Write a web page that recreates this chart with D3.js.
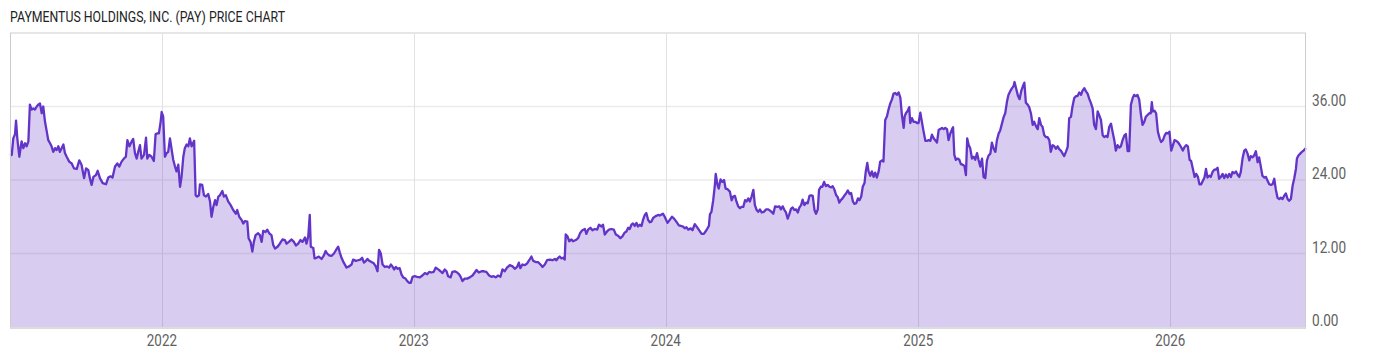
<!DOCTYPE html>
<html><head><meta charset="utf-8">
<script src="https://cdn.jsdelivr.net/npm/d3@7"></script>
<style>body{margin:0;background:#fff}svg{display:block}</style>
</head><body><svg id="c" width="1400" height="357"></svg>
<script>
const title = "PAYMENTUS HOLDINGS, INC. (PAY) PRICE CHART";
const yTickValues = [0, 12, 24, 36];
const yMax = 48;
// dates as decimal years
const dateYears = [
2021.397,2021.404,2021.410,2021.417,2021.421,2021.426,2021.434,2021.443,2021.450,2021.457,2021.463,2021.470,2021.476,2021.483,2021.490,2021.496,2021.503,2021.509,2021.516,2021.523,2021.529,2021.536,2021.543,2021.549,2021.556,2021.562,2021.569,2021.576,2021.582,2021.589,2021.595,2021.602,2021.609,2021.615,2021.622,2021.632,2021.642,2021.651,2021.662,2021.672,2021.681,2021.691,2021.699,2021.708,2021.714,2021.721,2021.728,2021.738,2021.745,2021.754,2021.765,2021.778,2021.787,2021.796,2021.804,2021.814,2021.823,2021.831,2021.840,2021.849,2021.857,2021.863,2021.871,2021.880,2021.886,2021.893,2021.900,2021.906,2021.913,2021.919,2021.929,2021.937,2021.942,2021.950,2021.959,2021.968,2021.975,2021.982,2021.988,2021.995,2021.999,
2022.005,2022.012,2022.019,2022.025,2022.032,2022.039,2022.045,2022.052,2022.058,2022.065,2022.072,2022.078,2022.085,2022.091,2022.098,2022.105,2022.111,2022.118,2022.128,2022.134,2022.140,2022.147,2022.151,2022.160,2022.167,2022.175,2022.184,2022.191,2022.197,2022.204,2022.211,2022.217,2022.224,2022.230,2022.240,2022.246,2022.254,2022.263,2022.273,2022.283,2022.294,2022.299,2022.307,2022.316,2022.323,2022.330,2022.339,2022.344,2022.352,2022.359,2022.365,2022.372,2022.382,2022.389,2022.396,2022.402,2022.411,2022.418,2022.426,2022.435,2022.442,2022.449,2022.459,2022.468,2022.479,2022.488,2022.495,2022.504,2022.515,2022.524,2022.532,2022.541,2022.550,2022.558,2022.568,2022.574,2022.581,2022.587,2022.591,2022.601,2022.606,2022.614,2022.623,2022.634,2022.643,2022.650,2022.656,2022.664,2022.673,2022.683,2022.693,2022.700,
2022.706,2022.713,2022.722,2022.733,2022.743,2022.753,2022.759,2022.770,2022.779,2022.788,2022.795,2022.802,2022.810,2022.816,2022.823,2022.832,2022.841,2022.849,2022.856,2022.862,2022.869,2022.876,2022.885,2022.894,2022.902,2022.909,2022.915,2022.922,2022.929,2022.935,2022.944,2022.951,2022.958,2022.967,2022.974,2022.982,2022.988,2022.995,
2023.004,2023.013,2023.024,2023.034,2023.044,2023.053,2023.061,2023.070,2023.079,2023.087,2023.097,2023.106,2023.114,2023.123,2023.130,2023.136,2023.146,2023.153,2023.163,2023.172,2023.180,2023.187,2023.193,2023.202,2023.212,2023.222,2023.233,2023.242,2023.249,2023.258,2023.269,2023.278,2023.288,2023.299,2023.308,2023.317,2023.325,2023.335,2023.344,2023.352,2023.361,2023.370,2023.381,2023.392,2023.401,2023.410,2023.417,2023.423,2023.431,2023.441,2023.450,2023.458,2023.467,2023.474,2023.484,2023.493,2023.503,2023.511,2023.520,2023.529,2023.540,2023.550,2023.560,2023.566,2023.573,2023.579,2023.586,2023.593,2023.599,2023.603,2023.610,2023.617,2023.626,2023.632,2023.643,2023.652,2023.661,2023.669,2023.679,2023.685,2023.692,2023.701,2023.709,2023.718,2023.728,2023.735,2023.745,2023.751,2023.758,2023.767,2023.775,2023.784,2023.794,2023.802,2023.811,2023.820,2023.828,2023.837,2023.844,2023.851,2023.857,2023.864,2023.870,2023.877,2023.884,2023.890,2023.897,2023.904,2023.910,2023.917,2023.923,2023.930,2023.937,2023.943,2023.950,2023.960,2023.970,2023.976,2023.989,2023.996,
2024.007,2024.016,2024.025,2024.033,2024.042,2024.052,2024.060,2024.069,2024.075,2024.082,2024.089,2024.099,2024.106,2024.115,2024.124,2024.132,2024.142,2024.151,2024.161,2024.171,2024.175,2024.181,2024.188,2024.194,2024.198,2024.205,2024.210,2024.217,2024.224,2024.231,2024.237,2024.245,2024.254,2024.261,2024.267,2024.274,2024.280,2024.287,2024.294,2024.300,2024.307,2024.314,2024.320,2024.327,2024.333,2024.340,2024.347,2024.353,2024.360,2024.366,2024.373,2024.380,2024.389,2024.397,2024.406,2024.413,2024.419,2024.426,2024.433,2024.442,2024.450,2024.456,2024.463,2024.470,2024.476,2024.483,2024.489,2024.496,2024.503,2024.509,2024.516,2024.523,2024.529,2024.536,2024.542,2024.549,2024.556,2024.562,2024.569,2024.575,2024.582,2024.589,2024.595,2024.602,2024.607,2024.614,2024.620,2024.627,2024.634,2024.642,2024.648,2024.655,2024.661,2024.668,2024.675,2024.681,2024.687,2024.693,2024.700,2024.708,2024.714,2024.721,2024.728,2024.734,2024.741,2024.747,2024.754,2024.761,2024.767,2024.774,2024.780,2024.787,2024.792,2024.798,2024.803,2024.810,2024.816,2024.823,2024.829,2024.836,2024.843,2024.849,2024.856,2024.862,2024.869,2024.876,2024.882,2024.889,2024.896,2024.902,2024.909,2024.915,2024.922,2024.929,2024.935,2024.942,2024.946,2024.951,2024.958,2024.964,2024.968,2024.975,2024.981,2024.988,2024.995,
2025.001,2025.008,2025.015,2025.021,2025.028,2025.034,2025.041,2025.048,2025.054,2025.061,2025.067,2025.074,2025.081,2025.087,2025.094,2025.101,2025.107,2025.114,2025.120,2025.127,2025.134,2025.138,2025.143,2025.149,2025.156,2025.163,2025.169,2025.176,2025.183,2025.189,2025.194,2025.200,2025.206,2025.213,2025.220,2025.226,2025.233,2025.239,2025.246,2025.253,2025.259,2025.266,
2025.2725,2025.279,2025.286,2025.292,2025.299,2025.306,2025.312,2025.319,2025.325,2025.332,2025.339,2025.345,2025.352,2025.358,2025.365,2025.372,2025.378,2025.382,2025.389,2025.396,2025.402,2025.409,2025.415,2025.421,2025.427,2025.434,2025.440,2025.447,2025.454,2025.460,2025.467,2025.474,2025.480,2025.487,2025.493,2025.500,2025.507,2025.513,2025.520,2025.526,2025.533,2025.540,2025.546,2025.553,2025.560,2025.566,2025.573,2025.579,2025.586,2025.593,2025.599,2025.606,2025.612,2025.619,2025.626,2025.632,2025.639,2025.646,2025.652,2025.659,2025.665,2025.672,2025.679,2025.685,2025.692,2025.698,2025.705,2025.712,2025.718,2025.725,2025.732,2025.738,2025.745,2025.751,2025.758,2025.765,2025.771,2025.778,2025.784,2025.791,2025.798,2025.804,2025.811,2025.818,2025.824,2025.831,2025.837,2025.844,2025.851,2025.857,2025.864,2025.870,2025.877,2025.884,2025.890,2025.897,2025.903,2025.910,2025.917,2025.923,2025.927,2025.931,2025.938,2025.944,2025.951,2025.958,2025.964,2025.971,2025.978,2025.984,2025.991,2025.997,
2026.004,2026.011,2026.017,2026.024,2026.030,2026.037,2026.044,2026.050,2026.057,2026.064,2026.070,2026.077,2026.083,2026.090,2026.097,2026.103,2026.110,2026.116,2026.123,2026.130,2026.136,2026.142,2026.148,2026.155,2026.161,2026.168,2026.175,2026.181,2026.188,2026.194,2026.201,2026.208,2026.214,2026.221,2026.228,2026.234,2026.241,2026.247,2026.254,2026.261,2026.267,2026.274,2026.280,2026.287,2026.294,2026.300,2026.307,2026.314,2026.320,2026.327,2026.333,2026.340,2026.347,2026.353,2026.360,2026.366,2026.373,2026.380,2026.386,2026.393,2026.400,2026.406,2026.413,2026.419,2026.426,2026.433,2026.439,2026.446,2026.452,2026.459,2026.466,2026.472,2026.479,2026.486,2026.492,2026.499,2026.503,2026.509,2026.516,2026.523,2026.529,2026.536,2026.539
];
const prices = [
28.0,28.1,30.8,31.5,33.7,30.8,27.8,30.3,29.2,30.0,29.5,30.3,36.3,35.5,35.7,35.5,36.0,36.3,36.5,34.9,36.0,33.5,31.9,30.5,30.0,29.5,28.6,29.2,28.9,29.5,28.6,29.2,29.8,28.4,27.8,27.0,26.7,25.9,25.8,27.2,26.5,24.3,25.9,25.6,24.3,23.2,24.5,24.8,25.5,24.3,23.5,23.3,24.4,24.6,24.4,26.2,26.7,26.2,27.0,27.5,27.8,30.5,29.5,30.3,30.7,28.4,27.5,28.6,29.7,27.5,28.1,30.9,27.5,28.1,27.8,27.1,31.5,31.6,31.6,33.5,35.1,
34.4,27.8,28.4,28.6,30.8,28.9,27.3,26.2,25.4,26.5,22.9,24.5,27.8,29.2,29.8,29.5,30.8,29.5,30.4,21.5,21.3,21.5,23.3,23.2,21.5,21.3,21.7,20.5,18.0,19.6,20.7,19.9,21.3,21.5,22.2,21.3,21.5,20.5,19.9,19.1,18.5,19.1,18.0,17.5,16.9,17.3,17.2,14.5,13.9,12.3,13.9,15.0,15.3,15.0,13.9,15.7,15.5,15.9,15.3,15.0,13.4,12.8,13.1,13.6,14.3,14.2,13.6,13.9,14.3,13.9,13.3,13.6,14.2,13.9,14.6,13.6,14.8,18.3,13.1,12.9,11.2,11.3,11.5,11.1,11.7,12.4,12.0,11.7,11.6,12.0,12.7,13.1,
12.2,11.3,10.5,9.7,9.9,10.2,11.0,10.8,10.9,11.0,11.3,10.5,10.8,11.1,10.8,10.6,10.4,9.9,9.1,12.6,12.0,10.2,9.8,9.9,9.7,10.2,9.9,9.4,9.8,9.5,9.6,8.6,8.1,7.9,7.5,7.2,7.2,8.2,
8.3,8.2,8.1,8.4,8.8,8.6,9.0,8.9,9.0,9.7,9.4,9.1,8.8,9.4,9.1,8.3,8.1,9.0,9.1,8.9,8.6,8.1,7.5,7.9,7.9,8.1,8.4,8.9,9.3,8.9,9.1,9.1,9.0,8.4,8.2,8.3,8.1,8.4,8.2,9.4,9.1,9.7,10.1,9.9,9.5,9.8,10.5,9.6,10.2,10.1,10.4,10.9,11.5,10.8,10.6,10.6,10.2,9.8,10.2,10.9,11.0,10.9,11.1,10.9,11.3,11.5,11.2,11.3,11.0,15.1,14.8,14.0,14.3,14.0,14.2,14.5,15.4,15.8,16.0,15.2,15.9,16.2,15.8,16.0,15.9,16.7,16.4,16.7,15.1,15.6,15.9,16.0,15.9,15.1,14.9,14.5,14.8,15.4,15.6,16.2,16.0,16.7,16.9,16.5,17.0,16.4,16.7,16.5,17.5,18.3,18.6,17.5,17.1,17.2,17.8,18.1,18.3,18.2,18.5,18.0,
17.0,17.5,18.0,17.7,17.2,16.6,16.5,16.4,16.1,16.3,15.9,16.1,15.8,16.8,16.3,15.8,15.2,15.2,15.8,16.5,18.4,18.8,20.7,22.9,25.0,23.2,22.6,24.1,23.7,24.0,22.6,22.5,22.1,20.7,21.3,21.4,20.5,19.7,19.4,19.6,19.6,20.7,20.5,21.0,20.5,21.3,22.4,19.9,19.1,18.8,19.2,18.7,18.8,19.2,19.2,19.0,18.8,18.5,19.7,19.6,19.7,19.2,19.7,19.1,18.7,17.7,18.4,19.3,19.5,19.1,19.2,18.7,19.5,19.9,20.8,19.9,20.3,20.2,21.4,21.5,21.4,19.1,18.5,19.2,22.4,22.9,22.9,23.7,23.0,23.2,22.9,22.8,23.0,22.4,21.5,21.2,20.3,20.7,21.0,21.5,21.8,22.3,21.7,21.9,20.5,20.1,20.2,21.0,20.7,21.3,22.9,23.5,25.4,26.8,25.4,24.7,25.4,24.5,25.2,24.4,25.4,27.0,27.2,27.0,33.8,34.4,35.5,36.5,37.2,38.1,38.2,37.9,38.3,37.4,34.6,32.5,34.4,34.9,35.3,35.9,33.3,34.1,33.5,33.5,33.3,
33.3,35.0,33.3,31.9,30.4,30.4,30.5,30.4,31.4,30.8,30.5,30.1,32.2,32.3,32.5,32.3,32.5,32.3,30.5,31.6,32.3,32.6,28.1,27.3,27.5,27.3,26.6,26.5,26.3,24.8,30.8,29.7,29.2,27.5,27.8,27.3,28.4,27.3,26.2,27.5,24.5,24.3,
27.2,28.0,28.3,30.1,29.1,28.6,30.5,31.6,32.1,33.2,34.3,34.9,36.8,37.9,38.5,39.0,39.3,40.0,38.8,37.7,37.2,38.6,39.3,39.9,36.6,36.3,35.9,34.9,33.0,33.5,32.8,32.3,34.1,33.0,32.7,31.3,31.0,31.0,30.5,28.6,29.7,29.5,29.1,29.5,29.0,28.8,28.3,27.9,28.6,29.4,34.1,34.3,36.0,37.4,37.7,37.7,38.3,37.9,38.6,39.0,38.5,38.1,37.2,36.6,35.7,33.0,32.3,35.2,34.6,33.8,31.3,31.0,31.2,31.0,32.7,33.2,31.9,30.5,28.8,29.7,29.3,29.5,30.5,31.3,31.5,28.7,28.7,36.3,37.4,37.9,37.7,37.9,37.1,34.6,33.0,33.5,34.3,34.6,34.9,34.9,36.7,35.2,35.3,34.9,31.9,30.8,30.2,30.5,31.3,31.7,31.6,31.9,
28.8,29.7,30.5,30.4,30.2,29.8,29.3,28.8,29.4,29.7,29.5,27.3,27.1,25.8,24.5,25.0,24.5,23.3,23.3,23.9,24.4,25.8,24.4,24.7,24.5,25.3,25.7,25.7,26.0,24.2,24.5,25.0,24.3,24.9,24.4,25.0,24.5,25.3,25.1,25.4,24.9,24.5,25.3,27.5,28.8,29.0,28.3,27.2,27.9,27.7,28.0,28.7,26.9,27.7,26.1,24.7,24.4,24.5,23.9,23.3,23.2,23.3,24.2,22.5,21.1,20.9,21.1,20.9,21.4,21.8,20.9,20.6,20.9,23.1,24.2,25.8,27.5,28.0,28.3,28.6,28.8,29.1,29.2
];

function toDate(t) {
  const yr = Math.floor(t);
  const s = Date.UTC(yr, 0, 1), e = Date.UTC(yr + 1, 0, 1);
  return new Date(s + (t - yr) * (e - s));
}
const n = Math.min(dateYears.length, prices.length);
const data = d3.range(n).map(i => ({ date: toDate(dateYears[i]), value: prices[i] }));

const box = { left: 10, right: 1306, top: 33, bottom: 327 };
const x = d3.scaleUtc().domain(d3.extent(data, d => d.date)).range([box.left, box.right]);
const y = d3.scaleLinear().domain([0, yMax]).range([box.bottom, box.top]);
const svg = d3.select('#c');

// title
svg.append('text')
  .attr('x', 10).attr('y', 21.5)
  .attr('font-family', 'Roboto, sans-serif').attr('font-size', 14)
  .attr('fill', '#222')
  .attr('textLength', 275).attr('lengthAdjust', 'spacingAndGlyphs')
  .text(title);

// horizontal grid
svg.append('g').selectAll('line')
  .data(yTickValues.filter(v => v > 0)).join('line')
  .attr('x1', box.left).attr('x2', box.right)
  .attr('y1', d => y(d)).attr('y2', d => y(d))
  .attr('stroke', '#ebebeb').attr('stroke-width', 1.5);

// vertical year grid
const years = x.ticks(d3.utcYear.every(1));
svg.append('g').selectAll('line')
  .data(years).join('line')
  .attr('x1', d => Math.round(x(d)) + 0.5).attr('x2', d => Math.round(x(d)) + 0.5)
  .attr('y1', box.top).attr('y2', box.bottom)
  .attr('stroke', '#e2e2e2').attr('stroke-width', 1);

// area
const area = d3.area().x(d => x(d.date)).y0(y(0)).y1(d => y(d.value));
svg.append('path').datum(data).attr('d', area)
  .attr('fill', 'rgba(103,58,200,0.26)');

// line
const line = d3.line().x(d => x(d.date)).y(d => y(d.value));
svg.append('path').datum(data).attr('d', line)
  .attr('fill', 'none').attr('stroke', '#6234c8').attr('stroke-width', 2.3)
  .attr('stroke-linejoin', 'round');

// frame
svg.append('line').attr('x1', box.left).attr('x2', box.right).attr('y1', box.top).attr('y2', box.top)
  .attr('stroke', '#e6e6e6').attr('stroke-width', 2);
svg.append('line').attr('x1', box.left).attr('x2', box.right).attr('y1', box.bottom + 1).attr('y2', box.bottom + 1)
  .attr('stroke', '#dcdcdc').attr('stroke-width', 2);
svg.append('line').attr('x1', box.left + 0.5).attr('x2', box.left + 0.5).attr('y1', box.top).attr('y2', box.bottom)
  .attr('stroke', '#cccccc').attr('stroke-width', 1);
svg.append('line').attr('x1', box.right - 0.5).attr('x2', box.right - 0.5).attr('y1', box.top).attr('y2', box.bottom)
  .attr('stroke', '#cccccc').attr('stroke-width', 1);

// y labels
svg.append('g').selectAll('text')
  .data(yTickValues).join('text')
  .attr('transform', d => `translate(1312,${y(d) - 1}) scale(0.85,1)`)
  .attr('font-family', 'Roboto, sans-serif').attr('font-size', 16)
  .attr('fill', '#616161')
  .text(d => d3.format('.2f')(d));

// x labels
svg.append('g').selectAll('text')
  .data(years).join('text')
  .attr('transform', d => `translate(${x(d)},346) scale(0.84,1)`)
  .attr('text-anchor', 'middle')
  .attr('font-family', 'Roboto, sans-serif').attr('font-size', 16)
  .attr('fill', '#616161')
  .text(d => d3.utcFormat('%Y')(d));
</script></body></html>
